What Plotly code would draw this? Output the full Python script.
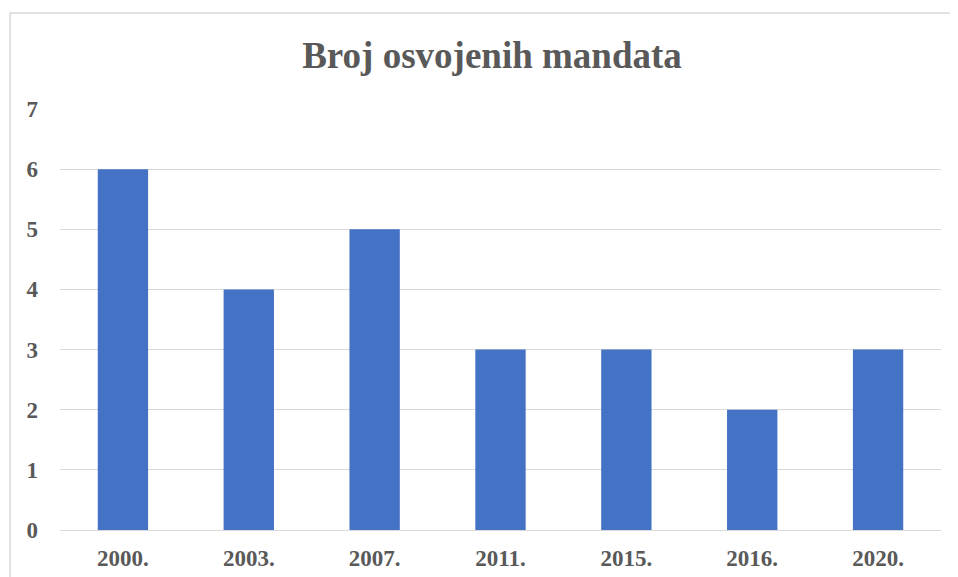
import plotly.graph_objects as go

categories = ["2000.", "2003.", "2007.", "2011.", "2015.", "2016.", "2020."]
mandates = [6, 4, 5, 3, 3, 2, 3]
y_ticks = [0, 1, 2, 3, 4, 5, 6, 7]

W, H = 958, 577
OFF = 8  # page body margin
L, T = 60 - OFF, 109 - OFF
R = W - (941 - OFF)
B = H - (530 - OFF)
pw, ph = W - L - R, H - T - B

fig = go.Figure(go.Bar(
    x=categories, y=mandates,
    marker=dict(color="#4472C4", line=dict(width=0)),
))

font_fam = "Liberation Serif, Times New Roman, serif"
fig.update_layout(
    width=W, height=H,
    margin=dict(l=L, r=R, t=T, b=B),
    paper_bgcolor="white", plot_bgcolor="white",
    bargap=0.6,
    showlegend=False,
    title=dict(text="<b>Broj osvojenih mandata</b>", x=(492 - OFF) / W, xanchor="center",
               y=1 - (55 - OFF) / H, yanchor="middle",
               font=dict(family=font_fam, size=37, color="#595959")),
    font=dict(family=font_fam, color="#595959"),
)
fig.update_xaxes(
    showgrid=False, showline=False, zeroline=False,
    tickfont=dict(family=font_fam, size=23, color="#595959", weight="bold"),
    ticklabelstandoff=12,
)
fig.update_yaxes(
    range=[0, 7], tickvals=y_ticks, showgrid=True, gridcolor="#d9d9d9", gridwidth=1,
    zeroline=True, zerolinecolor="#d9d9d9", zerolinewidth=1, showline=False,
    tickfont=dict(family=font_fam, size=23, color="#595959", weight="bold"),
    ticklabelstandoff=21,
)
fig.add_shape(type="rect", xref="paper", yref="paper",
              x0=(10 - OFF - L) / pw, x1=(W + 5 - L) / pw,
              y0=(T + ph - (H + 5)) / ph, y1=(T + ph - (13 - OFF)) / ph,
              line=dict(color="#d9d9d9", width=1.5), fillcolor="rgba(0,0,0,0)", layer="below")
fig.write_html("out.html")
